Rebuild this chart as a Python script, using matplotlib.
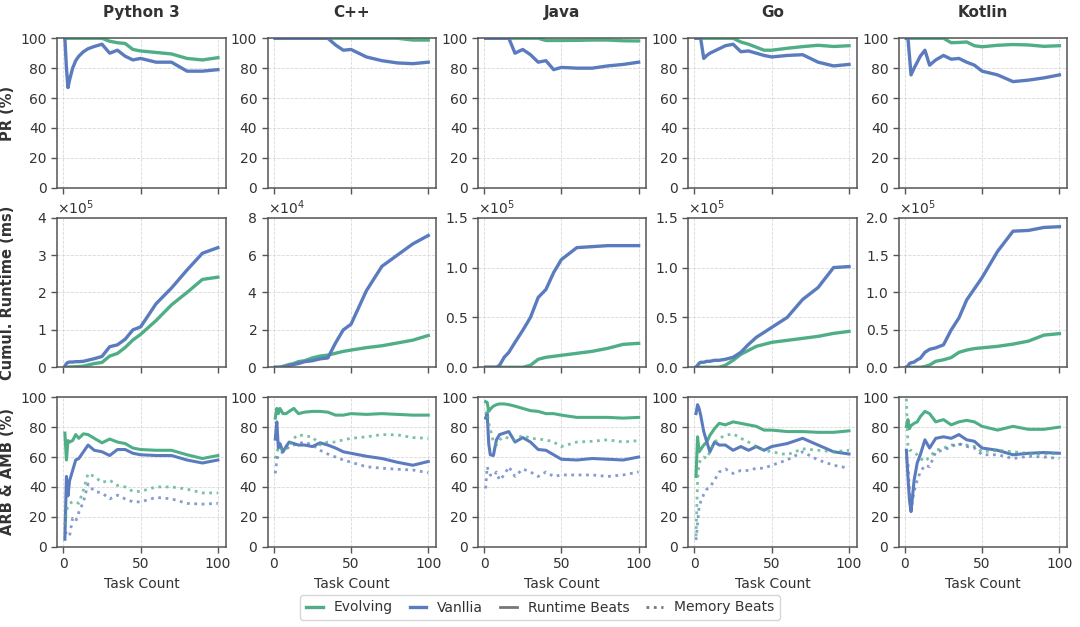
import numpy as np
import matplotlib.pyplot as plt
from matplotlib.lines import Line2D
from matplotlib.ticker import ScalarFormatter

tasks = [1, 2, 3, 4, 6, 8, 10, 13, 16, 20, 25, 30, 35, 40, 45, 50, 60, 70, 80, 90, 100]
languages = ["Python 3", "C++", "Java", "Go", "Kotlin"]

# Pass rate (%)
pr_evolving = {
    "Python 3": [100, 100, 100, 100, 100, 100, 100, 100, 100, 100, 100, 98, 97, 96.5, 92.5, 91.5, 90.5, 89.5, 86.5, 85.5, 87],
    "C++": [100, 100, 100, 100, 100, 100, 100, 100, 100, 100, 100, 100, 100, 100, 100, 100, 100, 100, 100, 98.8, 98.8],
    "Java": [100, 100, 100, 100, 100, 100, 100, 100, 100, 100, 100, 100, 100, 98.5, 98.5, 98.5, 98.6, 98.8, 98.8, 98.3, 98.2],
    "Go": [100, 100, 100, 100, 100, 100, 100, 100, 100, 100, 100, 97.5, 96, 94, 92, 92, 93.3, 94.4, 95.3, 94.5, 95],
    "Kotlin": [100, 100, 100, 100, 100, 100, 100, 100, 100, 100, 100, 97, 97.2, 97.5, 95, 94.3, 95.3, 95.8, 95.5, 94.6, 95],
}
pr_vanilla = {
    "Python 3": [100, 80, 67, 72, 80, 85, 88, 91, 93, 94.5, 96, 90, 92, 88, 85.5, 86.5, 84, 84, 78, 78, 79],
    "C++": [100, 100, 100, 100, 100, 100, 100, 100, 100, 100, 100, 100, 100, 95.5, 92, 92.5, 87.5, 85, 83.5, 83, 84],
    "Java": [100, 100, 100, 100, 100, 100, 100, 100, 100, 90, 92.5, 89, 84, 85, 79, 80.5, 80, 80, 81.5, 82.5, 84],
    "Go": [100, 100, 100, 100, 86.5, 88.5, 90, 91.5, 93, 95, 96, 91, 91.5, 90, 88.5, 87.5, 88.5, 89, 84, 81.5, 82.5],
    "Kotlin": [100, 100, 88, 75.5, 80, 84, 88, 92, 82, 85.5, 88.5, 86, 86.5, 84, 82, 78, 75.5, 71, 72, 73.5, 75.5],
}

# Cumulative runtime (ms)
rt_evolving = {
    "Python 3": [0, 0, 500, 1000, 1000, 1500, 2000, 3000, 6000, 10000, 13000, 30000, 37000, 53000, 73000, 88000, 125000, 167000, 200000, 235000, 241000],
    "C++": [0, 0, 0, 0, 500, 1000, 1500, 2000, 3000, 3500, 5000, 6000, 6500, 7500, 8500, 9200, 10500, 11500, 13000, 14500, 17000],
    "Java": [0, 0, 0, 0, 0, 0, 0, 0, 0, 0, 0, 2000, 8000, 10000, 11000, 12000, 14000, 16000, 19000, 23000, 24000],
    "Go": [0, 0, 0, 0, 0, 0, 0, 0, 0, 2000, 7000, 13000, 17000, 21000, 23000, 25000, 27000, 29000, 31000, 34000, 36000],
    "Kotlin": [0, 0, 0, 0, 0, 0, 0, 1000, 3000, 8000, 10000, 13000, 20000, 23000, 25000, 26000, 28000, 31000, 35000, 43000, 45000],
}
rt_vanilla = {
    "Python 3": [3000, 10000, 13000, 14000, 14000, 15000, 15000, 16000, 19000, 23000, 29000, 55000, 60000, 75000, 100000, 108000, 170000, 212000, 260000, 305000, 320000],
    "C++": [0, 0, 0, 0, 200, 500, 1000, 1500, 2000, 3000, 3500, 4500, 5000, 13000, 20000, 23000, 41000, 54000, 60000, 66000, 70500],
    "Java": [0, 0, 0, 0, 0, 0, 2000, 10000, 15000, 25000, 37000, 50000, 70000, 78000, 95000, 108000, 120000, 121000, 122000, 122000, 122000],
    "Go": [0, 2000, 4000, 5000, 5000, 6000, 6000, 7000, 7000, 8000, 10000, 15000, 23000, 30000, 35000, 40000, 50000, 68000, 80000, 100000, 101000],
    "Kotlin": [0, 2000, 5000, 6000, 7000, 10000, 12000, 20000, 24000, 26000, 30000, 50000, 66000, 90000, 105000, 120000, 155000, 182000, 183000, 187000, 188000],
}
rt_ylim = {"Python 3": 4e5, "C++": 8e4, "Java": 1.5e5, "Go": 1.5e5, "Kotlin": 2e5}
rt_ticks = {
    "Python 3": [0, 1e5, 2e5, 3e5, 4e5],
    "C++": [0, 2e4, 4e4, 6e4, 8e4],
    "Java": [0, 0.5e5, 1e5, 1.5e5],
    "Go": [0, 0.5e5, 1e5, 1.5e5],
    "Kotlin": [0, 0.5e5, 1e5, 1.5e5, 2e5],
}

# Average runtime beats / memory beats (%)
arb_evolving = {
    "Python 3": [76, 58, 71, 70, 71, 75, 72.5, 75.5, 75, 72.5, 69.5, 72, 70, 69, 66, 65, 64.5, 64.5, 61.5, 59, 61],
    "C++": [86, 92.5, 89, 92.5, 89, 89, 90.5, 92.5, 89, 90, 90.5, 90.5, 90, 88, 88, 89, 88.5, 89, 88.5, 88, 88],
    "Java": [97, 96.5, 90.5, 92, 94, 95, 95.5, 95.5, 95, 94, 92.5, 91, 90.5, 89, 89, 88, 86.5, 86.5, 86.5, 86, 86.5],
    "Go": [47, 73.5, 63.5, 65, 68, 70, 74.5, 79, 82.5, 81.5, 83.5, 82.5, 81.5, 80.5, 78, 78, 77, 77, 76.5, 76.5, 77.5],
    "Kotlin": [80.5, 85, 79, 81, 82.5, 83.5, 87, 90.5, 89, 83.5, 85, 81.5, 83.5, 84.5, 83.5, 80.5, 78, 80.5, 78.5, 78.5, 80],
}
arb_vanilla = {
    "Python 3": [5, 47, 34, 44, 51, 58, 59, 63.5, 68, 64.5, 63.5, 61, 65, 65, 62.5, 61.5, 61, 61, 58, 56, 58],
    "C++": [72, 83.5, 66, 69, 63.5, 67, 70, 69, 68, 68, 67, 69.5, 68, 66, 63.5, 62.5, 60.5, 59, 56.5, 54.5, 57],
    "Java": [86, 89, 69, 61.5, 61, 71.5, 75, 76, 77, 70, 73, 70, 65, 64.5, 61.5, 58.5, 58, 59, 58.5, 58, 60],
    "Go": [89, 95, 92.5, 88, 77, 70, 63.5, 70, 68, 68, 64.5, 67, 64.5, 67, 64.5, 67, 69, 72.5, 68, 63.5, 62],
    "Kotlin": [64.5, 47, 31, 23.5, 44.5, 56, 61.5, 71.5, 66, 72.5, 73.5, 72.5, 75, 71.5, 70.5, 66, 64.5, 61.5, 62.5, 63, 62.5],
}
amb_evolving = {
    "Python 3": [15, 24, 27, 29, 30, 30, 29, 38, 49, 47, 43, 44.5, 41, 40, 37, 37, 40, 40, 38.5, 36, 36],
    "C++": [59, 63.5, 66, 67, 63.5, 66, 68, 72.5, 75, 74, 73.5, 68, 70, 70, 71.5, 72.5, 73.5, 75, 74.8, 73, 72.5],
    "Java": [89, 90.5, 82.5, 79, 70, 68, 71.5, 73.5, 72.5, 71.5, 74.5, 72.5, 72, 71.5, 70, 67, 70, 70.5, 71.5, 70, 71],
    "Go": [7, 44.5, 56, 58, 60, 59, 63.5, 70, 72.5, 74.5, 75.5, 72.5, 70, 67, 64.5, 63.5, 61.5, 65.5, 64.5, 63.5, 64.5],
    "Kotlin": [99, 68, 64.5, 64.5, 63, 61.5, 59, 57, 60, 64.5, 66, 68, 68.5, 68, 67, 63.5, 64.5, 63.5, 62.5, 62, 62.5],
}
amb_vanilla = {
    "Python 3": [10, 9, 8, 7, 19, 17, 23, 30, 42, 37, 36, 32, 34.5, 32, 30, 30, 33, 32, 29, 28.5, 29],
    "C++": [49, 58, 61.5, 62, 63.5, 65, 67, 68, 69, 70, 68, 64.5, 62, 60, 58, 56.5, 53.5, 52.5, 51.8, 51.3, 49.5],
    "Java": [39, 53.5, 50, 48, 47, 50, 44.5, 48, 53.5, 47, 52, 50, 47, 50, 47, 48, 48, 48, 47, 48, 50],
    "Go": [4.5, 15.5, 27, 30, 35, 38.5, 40, 44.5, 50, 52, 49, 51, 51, 52.5, 52.5, 54.5, 58, 63.5, 58, 54.5, 52.5],
    "Kotlin": [60, 56, 38, 24.5, 37, 44.5, 50, 54.5, 53.5, 63.5, 64.5, 67, 69, 67, 66, 61.5, 61.5, 59, 60.5, 60, 59],
}

GREEN = "#4fae86"
BLUE = "#5b7bbf"
TEXT = "#333333"

plt.rcParams["font.family"] = ["DejaVu Sans"]
plt.rcParams["font.size"] = 10
plt.rcParams["text.color"] = TEXT
plt.rcParams["axes.labelcolor"] = TEXT
plt.rcParams["xtick.color"] = TEXT
plt.rcParams["ytick.color"] = TEXT

fig, axes = plt.subplots(3, 5, figsize=(10.8, 6.27), dpi=100)
fig.subplots_adjust(left=0.053, right=0.988, top=0.939, bottom=0.128,
                    wspace=0.25, hspace=0.2)

for j, lang in enumerate(languages):
    # pass rate
    ax = axes[0, j]
    ax.plot(tasks, pr_evolving[lang], color=GREEN, lw=2.4)
    ax.plot(tasks, pr_vanilla[lang], color=BLUE, lw=2.4)
    ax.set_ylim(0, 100)
    ax.set_yticks([0, 20, 40, 60, 80, 100])
    ax.set_title(lang, fontweight="bold", fontsize=11, pad=15)

    # cumulative runtime
    ax = axes[1, j]
    ax.plot(tasks, rt_evolving[lang], color=GREEN, lw=2.4)
    ax.plot(tasks, rt_vanilla[lang], color=BLUE, lw=2.4)
    ax.set_ylim(0, rt_ylim[lang])
    ax.set_yticks(rt_ticks[lang])
    fmt = ScalarFormatter(useMathText=True)
    fmt.set_powerlimits((0, 0))
    ax.yaxis.set_major_formatter(fmt)

    # runtime / memory beats
    ax = axes[2, j]
    ax.plot(tasks, arb_evolving[lang], color=GREEN, lw=2.2)
    ax.plot(tasks, arb_vanilla[lang], color=BLUE, lw=2.2)
    ax.plot(tasks, amb_evolving[lang], color=GREEN, lw=2.0, ls=":", alpha=0.75)
    ax.plot(tasks, amb_vanilla[lang], color=BLUE, lw=2.0, ls=":", alpha=0.75)
    ax.set_ylim(0, 100)
    ax.set_yticks([0, 20, 40, 60, 80, 100])
    ax.set_xlabel("Task Count")

for i in range(3):
    for j in range(5):
        ax = axes[i, j]
        ax.set_xticks([0, 50, 100])
        if i < 2:
            ax.set_xticklabels([])
        ax.grid(True, ls="--", lw=0.6, color="#d8d8d8")
        ax.tick_params(direction="out", length=4, width=1, color="#555555")
        for s in ax.spines.values():
            s.set_color("#555555")
            s.set_linewidth(1.1)

axes[0, 0].set_ylabel("PR (%)", fontweight="bold", fontsize=10.5)
axes[1, 0].set_ylabel("Cumul. Runtime (ms)", fontweight="bold", fontsize=10.5)
axes[2, 0].set_ylabel("ARB & AMB (%)", fontweight="bold", fontsize=10.5)
fig.align_ylabels(axes[:, 0])

handles = [
    Line2D([], [], color=GREEN, lw=2.4),
    Line2D([], [], color=BLUE, lw=2.4),
    Line2D([], [], color="#777777", lw=2.0),
    Line2D([], [], color="#777777", lw=2.0, ls=":"),
]
labels = ["Evolving", "Vanllia", "Runtime Beats", "Memory Beats"]
fig.legend(handles, labels, loc="lower center", bbox_to_anchor=(0.5, 0.0),
           ncol=4, frameon=True, edgecolor="#cccccc", handlelength=1.2,
           columnspacing=1.2, fontsize=10)

fig.savefig("out.png", dpi=100)
